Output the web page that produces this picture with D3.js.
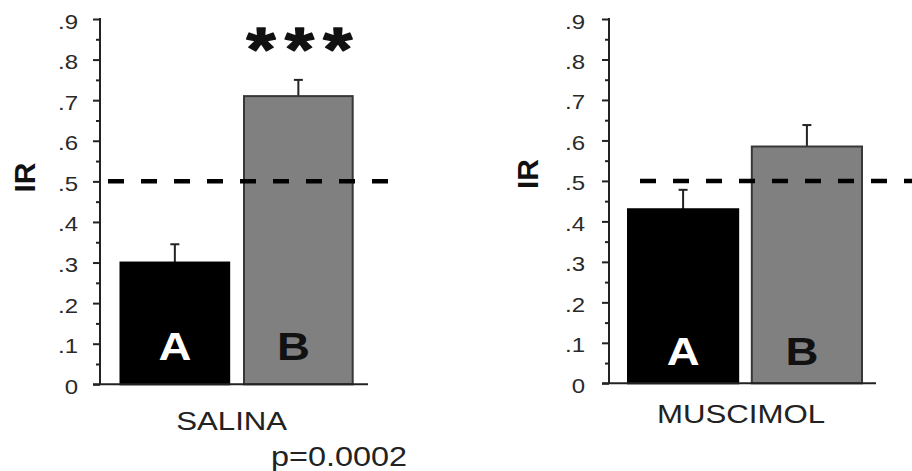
<!DOCTYPE html>
<html>
<head>
<meta charset="utf-8">
<script src="https://cdn.jsdelivr.net/npm/d3@7"></script>
<style>
  html, body { margin: 0; padding: 0; background: #fff; }
  svg { display: block; font-family: "Liberation Sans", Arial, sans-serif; }
</style>
</head>
<body>
<svg id="chart" width="912" height="471"></svg>
<script>
// ---- data ----
const conditions = ["SALINA", "MUSCIMOL"];
const groups = ["A", "B"];
const salinaMeans = [0.30, 0.71];
const salinaErrors = [0.045, 0.04];
const muscimolMeans = [0.43, 0.585];
const muscimolErrors = [0.048, 0.053];
const chanceLevel = 0.5;
const yTickValues = [0, 0.1, 0.2, 0.3, 0.4, 0.5, 0.6, 0.7, 0.8, 0.9];
const yTickLabels = ["0", ".1", ".2", ".3", ".4", ".5", ".6", ".7", ".8", ".9"];
const yMinorTicks = [0.05, 0.15, 0.25, 0.35, 0.45, 0.55, 0.65, 0.75, 0.85];
const significanceMarks = ["***", ""];
const pValueLabels = ["p=0.0002", ""];
const yLabel = "IR";

const panelMeans = [salinaMeans, muscimolMeans];
const panelErrors = [salinaErrors, muscimolErrors];

// ---- layout ----
const SX = 1.2; // horizontal text stretch
const layout = [
  { axisX: 100, y0: 384.3, yTop: 19, bars: [120.5, 352.7], pad: 0.12, xEnd: 368,
    dash: [108, 388], labelOff: 22, letterY: 360, condX: 231.7, condY: 430, yLabX: 24.5, yLabY: 177.5 },
  { axisX: 609, y0: 383.3, yTop: 19, bars: [628, 862], pad: 0.11, xEnd: 876,
    dash: [640, 912], labelOff: 24, letterY: 365, condX: 741, condY: 423, yLabX: 528, yLabY: 174 }
];

const svg = d3.select("#chart");

function stretchText(g, x, y, str) {
  return g.append("text")
    .attr("transform", `translate(${x},${y}) scale(${SX},1)`)
    .text(str);
}

layout.forEach((L, i) => {
  const g = svg.append("g");
  const y = d3.scaleLinear().domain([0, 0.9]).range([L.y0, L.yTop]);
  const x = d3.scaleBand().domain(groups).range(L.bars).paddingInner(L.pad).paddingOuter(0);
  const means = panelMeans[i];
  const errs = panelErrors[i];

  // error whiskers (upward only)
  const capW = 9;
  groups.forEach((grp, j) => {
    const cx = x(grp) + x.bandwidth() / 2;
    g.append("line")
      .attr("x1", cx).attr("x2", cx)
      .attr("y1", y(means[j])).attr("y2", y(means[j] + errs[j]))
      .attr("stroke", "#222").attr("stroke-width", 2);
    g.append("line")
      .attr("x1", cx - capW / 2).attr("x2", cx + capW / 2)
      .attr("y1", y(means[j] + errs[j])).attr("y2", y(means[j] + errs[j]))
      .attr("stroke", "#222").attr("stroke-width", 2);
  });

  // bars
  g.selectAll("rect.bar")
    .data(groups)
    .join("rect")
    .attr("class", "bar")
    .attr("x", d => x(d))
    .attr("width", x.bandwidth())
    .attr("y", (d, j) => y(means[j]))
    .attr("height", (d, j) => y(0) - y(means[j]))
    .attr("fill", (d, j) => j === 0 ? "#000" : "#808080")
    .attr("stroke", (d, j) => j === 0 ? "#000" : "#383838")
    .attr("stroke-width", 2);

  // group letters inside bars
  groups.forEach((grp, j) => {
    const cx = x(grp) + x.bandwidth() / 2 + (j === 0 ? 0 : -5);
    stretchText(g, cx, L.letterY, grp)
      .attr("text-anchor", "middle")
      .attr("font-size", 38)
      .attr("font-weight", "bold")
      .attr("fill", j === 0 ? "#fff" : "#111");
  });

  // y axis: major ticks with labels
  const axisG = g.append("g").attr("transform", `translate(${L.axisX},0)`);
  axisG.call(d3.axisLeft(y).tickValues(yTickValues)
      .tickFormat((d, k) => yTickLabels[k]).tickSize(7).tickPadding(15))
    .call(a => a.select(".domain").remove());
  axisG.selectAll(".tick line").attr("stroke", "#222").attr("stroke-width", 2);
  axisG.selectAll(".tick text")
    .attr("x", null).attr("dy", "0.45em")
    .attr("transform", `translate(${-L.labelOff},0) scale(${SX},1)`)
    .attr("font-size", 20)
    .attr("font-family", "Liberation Sans, Arial, sans-serif")
    .attr("fill", "#2a2a2a");

  // minor ticks
  const minorG = g.append("g").attr("transform", `translate(${L.axisX},0)`);
  minorG.call(d3.axisLeft(y).tickValues(yMinorTicks).tickFormat("").tickSize(4))
    .call(a => a.select(".domain").remove());
  minorG.selectAll(".tick line").attr("stroke", "#222").attr("stroke-width", 2);

  // axis lines
  g.append("line")
    .attr("x1", L.axisX).attr("x2", L.axisX)
    .attr("y1", y(0.9) - 1).attr("y2", y(0))
    .attr("stroke", "#222").attr("stroke-width", 2);
  g.append("line")
    .attr("x1", L.axisX - 7).attr("x2", L.xEnd)
    .attr("y1", y(0)).attr("y2", y(0))
    .attr("stroke", "#222").attr("stroke-width", 2);

  // chance level
  g.append("line")
    .attr("x1", L.dash[0]).attr("x2", L.dash[1])
    .attr("y1", y(chanceLevel)).attr("y2", y(chanceLevel))
    .attr("stroke", "#000").attr("stroke-width", 4.5)
    .attr("stroke-dasharray", "16,17");

  // y label
  g.append("text")
    .attr("transform", `translate(${L.yLabX + 10},${L.yLabY}) rotate(-90)`)
    .attr("text-anchor", "middle")
    .attr("font-size", 30)
    .attr("font-weight", "bold")
    .attr("fill", "#111")
    .text(yLabel);

  // condition label
  stretchText(g, L.condX, L.condY, conditions[i])
    .attr("text-anchor", "middle")
    .attr("font-size", 26)
    .attr("fill", "#222");

  // significance stars, one centred chunk per character
  if (significanceMarks[i]) {
    const cx = x(groups[1]) + x.bandwidth() / 2 + 1;
    const chars = significanceMarks[i].split("");
    const step = 32;
    const xs = chars.map((c, k) => (k - (chars.length - 1) / 2) * step);
    g.append("text")
      .attr("transform", `translate(${cx},70) scale(${SX},1)`)
      .attr("x", xs.join(" "))
      .attr("text-anchor", "middle")
      .attr("font-size", 62)
      .attr("font-weight", "bold")
      .attr("fill", "#111")
      .attr("stroke", "#111")
      .attr("stroke-width", 1.4)
      .attr("stroke-linejoin", "round")
      .text(significanceMarks[i]);
  }
  if (pValueLabels[i]) {
    stretchText(g, 271, 466, pValueLabels[i])
      .attr("font-size", 27)
      .attr("fill", "#222");
  }
});
</script>
</body>
</html>
